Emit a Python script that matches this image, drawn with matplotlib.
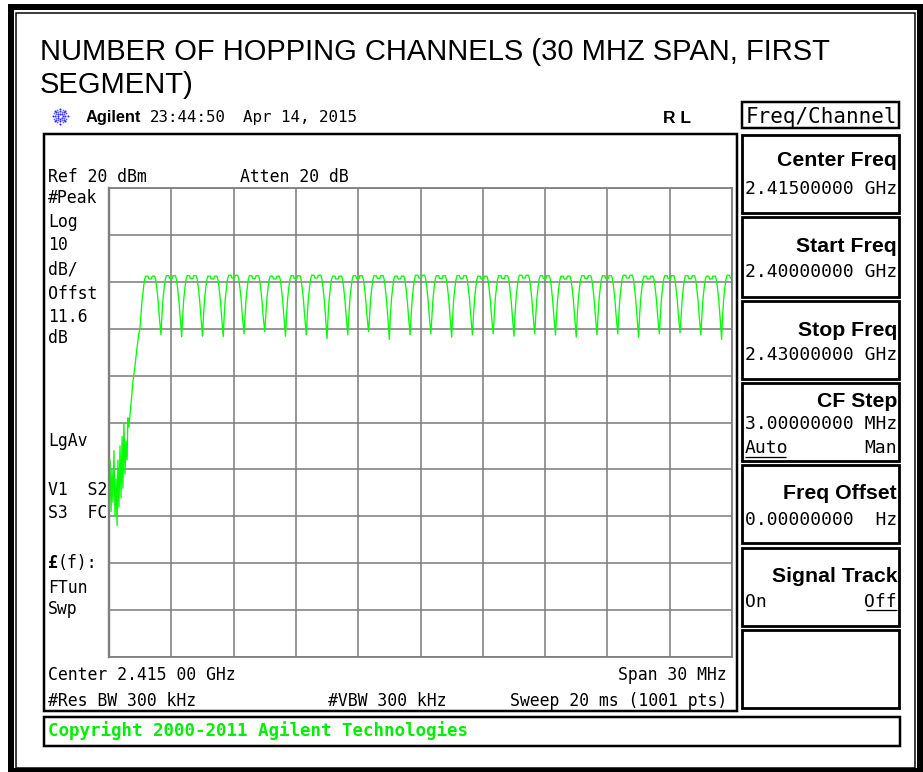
import numpy as np
import matplotlib
matplotlib.use("Agg")
import matplotlib.pyplot as plt
from matplotlib.patches import Rectangle

W, H = 923, 772

# ---------------- data ----------------
start_mhz = 2400.0
stop_mhz = 2430.0
ref_level_dbm = 20
db_per_div = 10

# noise floor / skirt at the left edge (offset from start in MHz, level dBm)
noise_offsets = [0.00, 0.05, 0.10, 0.14, 0.19, 0.24, 0.29, 0.34, 0.39, 0.43,
                 0.48, 0.53, 0.58, 0.63, 0.67, 0.72, 0.77, 0.82, 0.87, 0.91,
                 0.96, 1.06, 1.16, 1.25, 1.35, 1.44, 1.49, 1.59]
noise_levels = [-44, -38, -49, -40, -47, -36, -50, -42, -52, -38,
                -48, -35, -46, -33, -44, -30, -41, -34, -38, -29,
                -31, -26, -21, -18, -14, -11, -10, -4]

# hopping channels (MHz)
channel_centers = list(range(2402, 2431))
peak_levels = [1.2, 1.3, 1.3, 1.2, 1.4, 1.3, 1.2, 1.3, 1.4, 1.2,
               1.3, 1.3, 1.2, 1.4, 1.3, 1.3, 1.2, 1.3, 1.4, 1.3,
               1.2, 1.3, 1.3, 1.4, 1.2, 1.3, 1.3, 1.2, 1.4]
# dips between adjacent channels (at centre + 0.5 MHz)
trough_levels = [-11.3, -11.7, -11.6, -11.7, -11.1, -10.6, -11.6, -11.3, -12.1, -11.3,
                 -10.6, -12.3, -11.3, -11.1, -11.8, -11.3, -11.1, -11.6, -11.1, -11.3,
                 -11.8, -11.3, -11.1, -11.8, -11.1, -10.9, -11.3, -12.3]
# shape of one channel relative to its peak (offset MHz, dB)
shape_offsets = [-0.45, -0.40, -0.34, -0.29, -0.24, -0.12, -0.08, 0.00, 0.04, 0.08, 0.20, 0.25, 0.30, 0.36, 0.42]
shape_levels = [-8.5, -5.0, -2.5, -0.8, 0.0, 0.0, -0.6, -0.6, -0.6, 0.0, 0.0, -0.8, -2.5, -5.0, -8.5]

# ---------------- build trace ----------------
tr_f = [start_mhz + o for o in noise_offsets]
tr_l = list(noise_levels)
for i, c in enumerate(channel_centers):
    for o, r in zip(shape_offsets, shape_levels):
        f = c + o
        if f <= tr_f[-1] or f > stop_mhz:
            continue
        tr_f.append(f)
        tr_l.append(peak_levels[i] + r)
    if i < len(trough_levels):
        tr_f.append(c + 0.5)
        tr_l.append(trough_levels[i])

# ---------------- figure ----------------
fig = plt.figure(figsize=(W / 100, H / 100), dpi=100)
bg = fig.add_axes([0, 0, 1, 1])
bg.set_xlim(0, W)
bg.set_ylim(H, 0)
bg.axis("off")

PX = 0.72  # points per pixel


def hline(x0, x1, y, lw, c="black"):
    bg.plot([x0, x1], [y, y], color=c, lw=lw * PX, solid_capstyle="butt")


def box(x0, y0, x1, y1, lw, c="black"):
    bg.add_patch(Rectangle((x0, y0), x1 - x0, y1 - y0, fill=False, ec=c, lw=lw * PX,
                           joinstyle="miter"))


# outer double border
box(10.5, 7, 920, 771, 6)
box(15.5, 12.5, 915, 767.5, 1.5)

# title
title_font = dict(family="Liberation Sans", fontsize=21.0, color="black")
bg.text(40, 60, "NUMBER OF HOPPING CHANNELS (30 MHZ SPAN, FIRST", ha="left", va="baseline", **title_font)
bg.text(40, 93, "SEGMENT)", ha="left", va="baseline", **title_font)

MONO = "DejaVu Sans Mono"
MONO_SIZE = 11.9
KEY_SIZE = 13.0


def mt(x, y, s, ha="left", size=MONO_SIZE, **kw):
    bg.text(x, y, s, ha=ha, va="baseline", family=MONO, fontsize=size, color="black", **kw)


# Agilent logo starburst
cx, cy = 60, 116
for k in range(8):
    a = np.deg2rad(k * 45)
    rs = np.array([2.5, 5.0, 7.5])
    bg.scatter(cx + rs * np.cos(a), cy + rs * np.sin(a), s=2.2, color="#3030ff", lw=0)
for k in range(8):
    a = np.deg2rad(k * 45 + 22.5)
    rs = np.array([4.5, 7.0])
    bg.scatter(cx + rs * np.cos(a), cy + rs * np.sin(a), s=1.6, color="#6060ff", lw=0)

bg.text(86, 122, "Agilent", family="Liberation Sans", fontweight="bold", fontsize=11.8,
        ha="left", va="baseline")
mt(150, 122, "23:44:50", size=11.3)
mt(243, 122, "Apr 14, 2015", size=11.4)
bg.text(677, 123, "R L", family="Liberation Sans", fontweight="bold", fontsize=12.5,
        ha="center", va="baseline")

# screen box
box(44, 134, 737, 711, 2.5)

# graticule / trace axes
ax = fig.add_axes([109 / W, 1 - 657 / H, 623 / W, 469 / H])
ax.set_xlim(start_mhz, stop_mhz)
ax.set_ylim(ref_level_dbm - 10 * db_per_div, ref_level_dbm)
ax.set_xticks(np.linspace(start_mhz, stop_mhz, 11))
ax.set_yticks(np.linspace(ref_level_dbm - 10 * db_per_div, ref_level_dbm, 11))
ax.tick_params(length=0, labelbottom=False, labelleft=False)
ax.grid(True, color="#808080", lw=1.6 * PX)
for sp in ax.spines.values():
    sp.set_color("#808080")
    sp.set_linewidth(1.8 * PX)
ax.spines["left"].set_linewidth(2.4 * PX)
ax.set_facecolor("white")
ax.plot(tr_f, tr_l, color="#00ff00", lw=1.3 * PX, clip_on=True)

# left annotations
mt(48, 182, "Ref 20 dBm")
mt(240, 182, "Atten 20 dB")
for y, s in [(203, "#Peak"), (227, "Log"), (250, "10"), (275, "dB/"), (299, "Offst"),
             (322, "11.6"), (343, "dB"), (446, "LgAv"), (495, "V1  S2"), (518, "S3  FC"),
             (593, "FTun"), (614, "Swp")]:
    mt(48, y, s)
mt(48, 568, "£", fontweight="bold")
mt(58, 568, "(f):")

mt(48, 680, "Center 2.415 00 GHz")
mt(727, 680, "Span 30 MHz", ha="right")
mt(48, 706, "#Res BW 300 kHz")
mt(328, 706, "#VBW 300 kHz")
mt(727, 706, "Sweep 20 ms (1001 pts)", ha="right")

# copyright bar
box(44, 717, 900, 746, 2.5)
bg.text(48, 736, "Copyright 2000-2011 Agilent Technologies", family=MONO, fontsize=12.6,
        fontweight="bold", color="#00ee00", ha="left", va="baseline")

# softkey menu
box(742, 102, 899, 128, 2.5)
mt(897, 123, "Freq/Channel", ha="right", size=15.0)

key_boxes = [(135, 213), (217, 297), (301, 379), (383, 461), (465, 543), (548, 626), (630, 708)]
for y0, y1 in key_boxes:
    box(742, y0, 899, y1, 2.8)

kfont = dict(family="Liberation Sans", fontweight="bold", fontsize=15.3, ha="right", va="baseline")
bg.text(897, 166, "Center Freq", **kfont)
mt(897, 194, "2.41500000 GHz", ha="right", size=KEY_SIZE)
bg.text(897, 252, "Start Freq", **kfont)
mt(897, 277, "2.40000000 GHz", ha="right", size=KEY_SIZE)
bg.text(897, 336, "Stop Freq", **kfont)
mt(897, 360, "2.43000000 GHz", ha="right", size=KEY_SIZE)
bg.text(897, 407, "CF Step", **kfont)
mt(897, 429, "3.00000000 MHz", ha="right", size=KEY_SIZE)
mt(745, 453, "Auto", size=KEY_SIZE)
mt(897, 453, "Man", ha="right", size=KEY_SIZE)
hline(745, 786, 456.5, 1.3)
bg.text(897, 499, "Freq Offset", **kfont)
mt(897, 525, "0.00000000  Hz", ha="right", size=KEY_SIZE)
bg.text(897, 582, "Signal Track", **kfont)
mt(745, 607, "On", size=KEY_SIZE)
mt(897, 607, "Off", ha="right", size=KEY_SIZE)
hline(866, 897, 609.5, 1.3)

fig.savefig("out.png", dpi=100)
